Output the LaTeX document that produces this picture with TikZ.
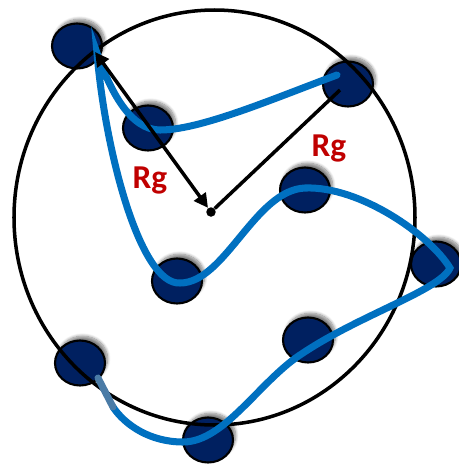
\documentclass[tikz,border=0pt]{standalone}
\usepackage{fontspec}
\setsansfont{Carlito}
\usepackage{tikz}
\usetikzlibrary{arrows.meta,shapes.geometric,shadows.blur}
\definecolor{mnavy}{HTML}{002060}
\definecolor{mblue}{HTML}{0070C0}
\definecolor{msteel}{HTML}{4A7BA6}
\definecolor{mred}{HTML}{C00000}
\tikzset{
  bead/.style={ellipse,draw=black,fill=mnavy,line width=1.2pt,minimum width=1cm,minimum height=0.9cm,inner sep=0pt,
    blur shadow={shadow xshift=1.5pt,shadow yshift=2.5pt,shadow blur steps=8,shadow opacity=50}},
  chain/.style={line width=4pt,draw=mblue,line cap=round},
  rarr/.style={{Triangle[length=8pt,width=8pt]}-{Triangle[length=8pt,width=8pt]},line width=2pt,draw=black},
  rg/.style={font=\sffamily\bfseries\fontsize{19}{19}\selectfont,text=mred,inner sep=0pt},
}
\begin{document}
\begin{tikzpicture}[x=0.02cm,y=-0.02cm]
  \useasboundingbox (0,0) rectangle (459,464);
  % beads
  \foreach \n/\x/\y in {1/77/46,2/148/128,3/348/84,4/305/190,5/177/281,6/436/264,7/308/340,8/80/363,9/208/440} {
    \node[bead] (m\n) at (\x,\y) {};
  }
  % sphere
  \draw[line width=2pt] (214.5,217.5) ellipse [x radius=200.5,y radius=207.5];
  % chain
  \draw[chain] (337,75) .. controls (270,100) and (200,130) .. (160,130)
    .. controls (130,130) and (110,90) .. (97,53)
    .. controls (105,150) and (140,285) .. (180,283)
    .. controls (225,283) and (255,190) .. (305,188)
    .. controls (360,186) and (430,235) .. (450,268)
    .. controls (440,290) and (360,315) .. (303,353)
    .. controls (260,380) and (225,442) .. (183,442)
    .. controls (150,442) and (125,425) .. (113,407);
  \draw[chain,draw=msteel] (113,407) -- (98,378);
  % radius of gyration
  \node[circle,fill=black,inner sep=0pt,minimum size=0.19cm] (cm) at (211,212) {};
  \coordinate (tip) at (95,52);
  \coordinate (end3) at (340,90);
  \draw[rarr] (tip) -- (cm);
  \draw[line width=2pt] (cm) -- (end3);
  \node[rg] (rg1) at (150,180) {Rg};
  \node[rg] (rg2) at (329,148) {Rg};
\end{tikzpicture}
\end{document}
